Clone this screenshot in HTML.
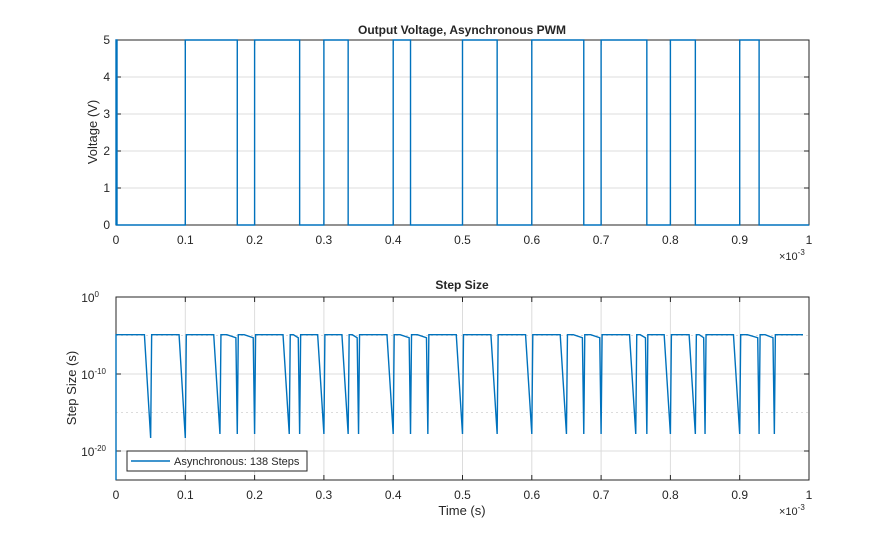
<!DOCTYPE html>
<html><head><meta charset="utf-8"><style>
body{margin:0;background:#fff;}
svg text{font-family:"Liberation Sans",Arial,sans-serif;fill:#262626;}
</style></head><body>
<svg id="s" width="895" height="540" xmlns="http://www.w3.org/2000/svg">
<rect width="895" height="540" fill="#fff"/>
<g id="grid" stroke="#dcdcdc" stroke-width="1"></g>
<g id="ax" fill="none" stroke="#262626" stroke-width="1"></g>
<g id="ser" fill="none" stroke="#0072bd" stroke-width="1.4"></g>
<g id="txt" font-size="12"></g>
<text x="462" y="34" text-anchor="middle" font-size="12" font-weight="bold">Output Voltage, Asynchronous PWM</text>
<text x="462" y="289" text-anchor="middle" font-size="12" font-weight="bold">Step Size</text>
<text transform="translate(97,132) rotate(-90)" text-anchor="middle" font-size="13">Voltage (V)</text>
<text transform="translate(76,388) rotate(-90)" text-anchor="middle" font-size="13">Step Size (s)</text>
<text x="462" y="515" text-anchor="middle" font-size="13">Time (s)</text>
<text x="779" y="260" font-size="11">×10<tspan dy="-5" font-size="8">-3</tspan></text>
<text x="779" y="515" font-size="11">×10<tspan dy="-5" font-size="8">-3</tspan></text>
<rect x="127" y="451" width="180" height="20" fill="#fff" stroke="#262626" stroke-width="1"/>
<line x1="131" y1="461" x2="170" y2="461" stroke="#0072bd" stroke-width="1.4"/>
<text x="174" y="465" font-size="11">Asynchronous: 138 Steps</text>
</svg>
<script>
(function(){
var NS="http://www.w3.org/2000/svg";
function el(p,t,a,txt){var e=document.createElementNS(NS,t);for(var k in a)e.setAttribute(k,a[k]);if(txt!==undefined)e.textContent=txt;document.getElementById(p).appendChild(e);return e;}
var X0=116,X1=809;function X(t){return X0+(X1-X0)*t;}
var T0=40,T1=225;function YV(v){return T1-(T1-T0)*v/5;}
for(var i=1;i<10;i++)el("grid","line",{x1:X(i/10),x2:X(i/10),y1:T0,y2:T1});
for(var v=1;v<5;v++)el("grid","line",{x1:X0,x2:X1,y1:YV(v),y2:YV(v)});
var B0=297,B1=480;function YL(e){return B0+(0-e)*7.7;}
for(var i=1;i<10;i++)el("grid","line",{x1:X(i/10),x2:X(i/10),y1:B0,y2:B1});
[-10,-20].forEach(function(e){el("grid","line",{x1:X0,x2:X1,y1:YL(e),y2:YL(e)});});
[-5,-15].forEach(function(e){el("grid","line",{x1:X0,x2:X1,y1:YL(e),y2:YL(e),"stroke-dasharray":"2,3"});});
var hi=[[0.1,0.175],[0.2,0.265],[0.3,0.335],[0.4,0.425],[0.5,0.55],[0.6,0.675],[0.7,0.766],[0.8,0.836],[0.9,0.928]];
var d="M"+X0+","+YV(0)+" L"+X0+","+YV(5)+" L"+(X0+1)+","+YV(5)+" L"+(X0+1)+","+YV(0);
hi.forEach(function(h){d+=" L"+X(h[0])+","+YV(0)+" L"+X(h[0])+","+YV(5)+" L"+X(h[1])+","+YV(5)+" L"+X(h[1])+","+YV(0);});
d+=" L"+X1+","+YV(0);
el("ser","path",{d:d});
var ev=[0.05,0.1,0.15,0.175,0.2,0.25,0.265,0.3,0.335,0.35,0.4,0.425,0.45,0.5,0.55,0.6,0.65,0.675,0.7,0.75,0.766,0.8,0.836,0.85,0.9,0.928,0.95];
var hy=YL(-4.9),low=434;
var p="M"+X0+","+B1+" L"+X0+","+hy;var prev=0;
ev.forEach(function(t,i){var gap=t-prev;
 if(gap>0.03){p+=" L"+X(t-0.009)+","+hy+" L"+X(t)+","+(i<2?438:low);}
 else{p+=" L"+X(t-gap*0.6)+","+hy+" L"+X(t-0.002)+","+(hy+3)+" L"+X(t)+","+low;}
 p+=" L"+(X(t)+1)+","+hy;prev=t;});
p+=" L"+(X1-6)+","+hy;
el("ser","path",{d:p});
el("ax","rect",{x:X0,y:T0,width:X1-X0,height:T1-T0});
el("ax","rect",{x:X0,y:B0,width:X1-X0,height:B1-B0});
for(var i=0;i<=10;i++){var lab=i==0?"0":i==10?"1":"0."+i;
 el("txt","text",{x:X(i/10),y:244,"text-anchor":"middle"},lab);
 el("txt","text",{x:X(i/10),y:499,"text-anchor":"middle"},lab);
 el("ax","line",{x1:X(i/10),x2:X(i/10),y1:T1,y2:T1-5});el("ax","line",{x1:X(i/10),x2:X(i/10),y1:T0,y2:T0+5});
 el("ax","line",{x1:X(i/10),x2:X(i/10),y1:B1,y2:B1-5});el("ax","line",{x1:X(i/10),x2:X(i/10),y1:B0,y2:B0+5});}
for(var v=0;v<=5;v++){el("txt","text",{x:110,y:YV(v)+4,"text-anchor":"end"},""+v);
 el("ax","line",{x1:X0,x2:X0+5,y1:YV(v),y2:YV(v)});el("ax","line",{x1:X1,x2:X1-5,y1:YV(v),y2:YV(v)});}
[0,-10,-20].forEach(function(e){var t=el("txt","text",{x:(e==0?99:106),y:YL(e)+5,"text-anchor":"end"});
 t.textContent="10";var s=document.createElementNS(NS,"tspan");s.setAttribute("dy","-5");s.setAttribute("font-size","8");s.textContent=""+e;t.appendChild(s);
 el("ax","line",{x1:X0,x2:X0+5,y1:YL(e),y2:YL(e)});el("ax","line",{x1:X1,x2:X1-5,y1:YL(e),y2:YL(e)});});
})();
</script>
</body></html>
